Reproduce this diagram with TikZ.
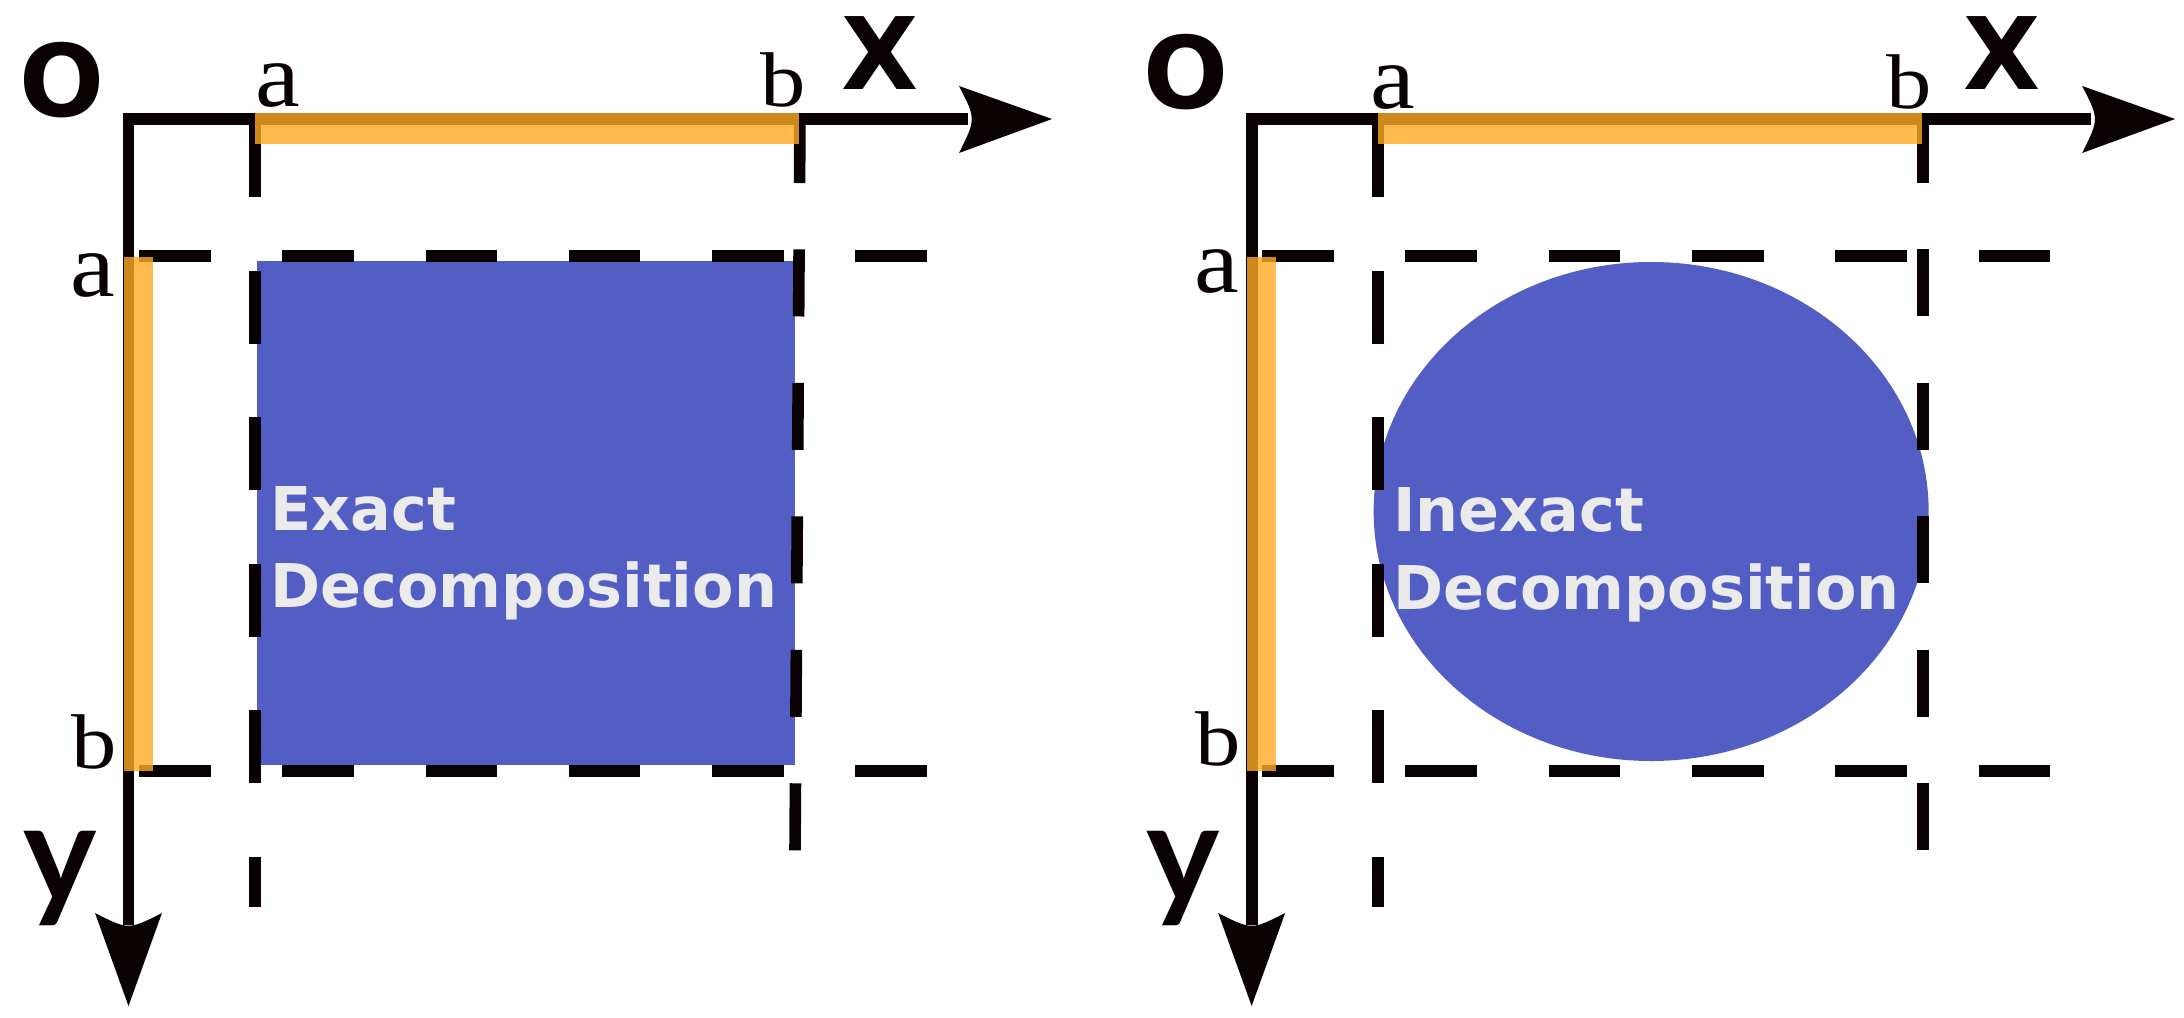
\documentclass[tikz,border=0pt]{standalone}
\usepackage{fontspec}
\newfontfamily\dvs{DejaVu Sans}
\newfontfamily\lato{Lato}
\newfontfamily\lser{Liberation Serif}
\definecolor{ink}{RGB}{10,2,2}
\definecolor{blu}{RGB}{83,94,196}
\definecolor{txt}{RGB}{235,235,235}
\definecolor{org}{RGB}{255,171,36}
\tikzset{
  axisline/.style={draw=ink,line width=3.41pt,line join=miter},
  hdash/.style={draw=ink,line width=3.41pt,dash pattern=on 20.37pt off 20.37pt},
  adash/.style={draw=ink,line width=3.3pt,dash pattern=on 20.83pt off 20.83pt},
  bdash/.style={draw=ink,line width=3.3pt,dash pattern=on 19.06pt off 18.89pt},
  tipfill/.style={fill=ink},
  hibar/.style={fill=org,fill opacity=0.8},
  shapefill/.style={fill=blu},
  axlab/.style={inner sep=0pt,anchor=base,text=ink,font=\dvs\bfseries\fontsize{28.45}{30}\selectfont},
  ylab/.style={inner sep=0pt,anchor=base,text=ink,font=\lato\bfseries\fontsize{39.5}{42}\selectfont},
  alab/.style={inner sep=0pt,anchor=base,text=ink,font=\lser\fontsize{26.0}{30}\selectfont,xscale=1.1},
  blab/.style={inner sep=0pt,anchor=base,text=ink,font=\lser\fontsize{22.05}{25}\selectfont,xscale=1.17},
  dectext/.style={inner sep=0pt,anchor=base west,text=txt,font=\dvs\bfseries\fontsize{17.16}{21.9}\selectfont},
}
\begin{document}
\begin{tikzpicture}[x=0.01cm,y=-0.01cm]
\useasboundingbox (0,0) rectangle (2184,1018);
\fill[white] (0,0) rectangle (2184,1018);
% ---------------- left panel ----------------
\begin{scope}
  \fill[shapefill] (257,261) rectangle (795,765);
  \node[dectext] (exA) at (270,530) {Exact};
  \node[dectext] (dcA) at (270,607) {Decomposition};
  % dashed guides
  \coordinate (htlA) at (139,256); \coordinate (htrA) at (927,256);
  \coordinate (hblA) at (139,771); \coordinate (hbrA) at (927,771);
  \coordinate (vatA) at (255,124); \coordinate (vabA) at (255,907);
  \coordinate (vbtA) at (800,116); \coordinate (vbbA) at (795,851);
  \draw[hdash] (htlA) -- (htrA);
  \draw[hdash] (hblA) -- (hbrA);
  \draw[adash] (vatA) -- (vabA);
  \draw[bdash] (vbtA) -- (vbbA);
  % axes
  \coordinate (oA) at (128.5,119);
  \coordinate (yendA) at (128.5,925);
  \coordinate (xendA) at (968,119);
  \draw[axisline] (yendA) -- (oA) -- (xendA);
  \fill[tipfill] (1052,119) -- (959,86) .. controls (976,119) .. (959,153) -- cycle;
  \fill[tipfill] (128.5,1006) -- (95,913) .. controls (128.5,930) .. (162,913) -- cycle;
  % highlighted intervals
  \fill[hibar] (255,113) rectangle (799,144);
  \fill[hibar] (124,257) rectangle (153,771);
  % labels
  \node[axlab] (OA) at (62,116) {O};
  \node[axlab] (XA) at (880,89) {X};
  \node[ylab] (YA) at (60,902) {y};
  \node[alab] (axA) at (278,106) {a};
  \node[blab] (bxA) at (783,106) {b};
  \node[alab] (ayA) at (93,296) {a};
  \node[blab] (byA) at (94.5,768) {b};
\end{scope}
% ---------------- right panel ----------------
\begin{scope}[xshift=11.225cm]
  \fill[shapefill] (528,511.5) ellipse [x radius=277.5, y radius=249.5];
  \node[dectext] (exB) at (269.5,531) {Inexact};
  \node[dectext] (dcB) at (269.5,609) {Decomposition};
  \coordinate (htlB) at (139,256); \coordinate (htrB) at (927,256);
  \coordinate (hblB) at (139,771); \coordinate (hbrB) at (927,771);
  \coordinate (vatB) at (255,124); \coordinate (vabB) at (255,907);
  \coordinate (vbtB) at (800,116); \coordinate (vbbB) at (800,851);
  \draw[hdash] (htlB) -- (htrB);
  \draw[hdash] (hblB) -- (hbrB);
  \draw[adash] (vatB) -- (vabB);
  \draw[bdash] (vbtB) -- (vbbB);
  \coordinate (oB) at (128.5,119);
  \coordinate (yendB) at (128.5,925);
  \coordinate (xendB) at (968,119);
  \draw[axisline] (yendB) -- (oB) -- (xendB);
  \fill[tipfill] (1052,119) -- (959,86) .. controls (976,119) .. (959,153) -- cycle;
  \fill[tipfill] (128.5,1006) -- (95,913) .. controls (128.5,930) .. (162,913) -- cycle;
  \fill[hibar] (255,113) rectangle (799,144);
  \fill[hibar] (124,257) rectangle (153,771);
  \node[axlab] (OB) at (63,108) {O};
  \node[axlab] (XB) at (878.5,89) {X};
  \node[ylab] (YB) at (60,902) {y};
  \node[alab] (axB) at (270,108) {a};
  \node[blab] (bxB) at (786,108) {b};
  \node[alab] (ayB) at (94,292) {a};
  \node[blab] (byB) at (95,765) {b};
\end{scope}
\end{tikzpicture}
\end{document}
